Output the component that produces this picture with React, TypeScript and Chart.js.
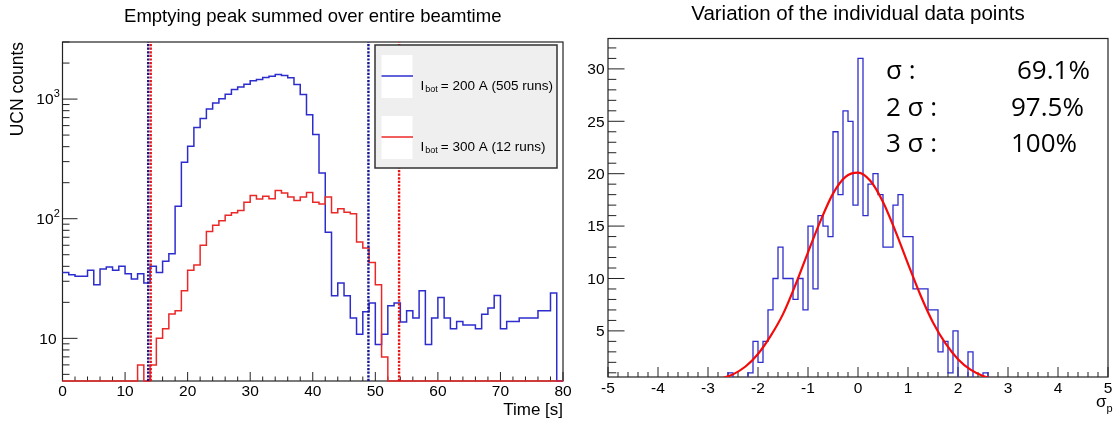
import React, { useEffect, useRef } from "react";
import { Chart, registerables } from "chart.js";

Chart.register(...registerables);

const W = 1117;
const H = 423;
const SANS = '"Liberation Sans", Arial, Helvetica, sans-serif';
const SLIDE = '"Open Sans", "Noto Sans", sans-serif';
const AXIS = "#222";
const BLUE = "rgb(45,45,205)";
const RED = "rgb(235,40,40)";
const BLUE_DOT = "rgb(20,20,150)";
const RED_DOT = "rgb(230,20,20)";
const TICK_FONT = `15.5px ${SANS}`;

// ---------- Left panel: emptying peak (1 s bins, 0..80 s) ----------
const timeBinStart = 0;
const timeBinWidth = 1;
const blueCounts = [
  35.5, 34, 33, 33, 37, 28, 38, 39.5, 37, 40,
  34.7, 31.3, 34.7, 29, 40, 35.5, 44, 51, 127, 296,
  403, 578, 687, 828, 929, 1004, 1097, 1200, 1264, 1330,
  1420, 1455, 1513, 1552, 1603, 1573, 1507, 1322, 1091, 741,
  505, 241, 77, 22.7, 29, 22.7, 14.8, 10.8, 16.7, 19.7,
  8.9, 10.8, 18.7, 19.7, 13.7, 17, 14.8, 25, 8.9, 14.8,
  21.9, 14.8, 12, 13.8, 12.9, 12.9, 12, 15.9, 17.9, 22.8,
  12, 13.8, 13.8, 14.8, 14.8, 14.8, 17, 17, 23.9, 0,
];
const redCounts = [
  0, 0, 0, 0, 0, 0, 0, 0, 0, 0,
  0, 0, 6, 0, 6, 10, 12, 16, 17, 25,
  37, 41, 60, 78, 88, 96, 107, 112, 117, 137,
  156, 146, 154, 147, 172, 164, 152, 142, 152, 166,
  137, 133, 152, 112, 121, 113, 110, 64, 57, 43,
  28, 7, 0, 0, 0, 0, 0, 0, 0, 0,
  0, 0, 0, 0, 0, 0, 0, 0, 0, 0,
  0, 0, 0, 0, 0, 0, 0, 0, 0, 0,
];
const blueCutTimes = [13.7, 48.9];
const redCutTimes = [14.1, 53.8];
const timeTicks = [0, 10, 20, 30, 40, 50, 60, 70, 80];
const timeTickLabels = ["0", "10", "20", "30", "40", "50", "60", "70", "80"];
const countTicks = [10, 100, 1000];
const countTickExponents = ["", "2", "3"];
const legendLabels = ["= 200 A (505 runs)", "= 300 A (12 runs)"];

const L_X_MIN = 0;
const L_X_MAX = 80;
const L_Y_MIN = 4.4;
const L_Y_MAX = 3000;

// ---------- Right panel: variation of data points (0.1 bins) ----------
const sigmaBinStart = -2.6;
const sigmaBinWidth = 0.1;
const sigmaCounts = [
  1, 0, 0, 0, 1, 4, 2, 4, 7, 10,
  13, 10, 10, 8, 10, 7, 15, 9, 16, 15,
  14, 24, 18, 26, 25, 17, 31, 16, 19, 20,
  18, 13, 13, 17, 18, 14, 14, 9, 9, 9,
  7, 7, 3, 4, 1, 5, 0, 0, 3, 0,
  0, 1,
];
const fitX = [-2.74, -2.5, -2.25, -2.0, -1.75, -1.5, -1.25, -1.0, -0.75, -0.5, -0.25, 0.0, 0.25, 0.5, 0.75, 1.0, 1.25, 1.5, 1.75, 2.0, 2.25, 2.5, 2.67];
const fitY = [0.45, 0.85, 1.6, 2.8, 4.5, 6.6, 9.4, 12.5, 15.5, 18.1, 19.7, 20.1, 19.3, 17.3, 14.5, 11.4, 8.4, 5.8, 3.8, 2.3, 1.3, 0.7, 0.45];
const sigmaTicks = [-5, -4, -3, -2, -1, 0, 1, 2, 3, 4, 5];
const sigmaTickLabels = ["-5", "-4", "-3", "-2", "-1", "0", "1", "2", "3", "4", "5"];
const entryTicks = [5, 10, 15, 20, 25, 30];
const entryTickLabels = ["5", "10", "15", "20", "25", "30"];
const coverageLabels = ["σ :", "2 σ :", "3 σ :"];
const coverageValues = ["69.1%", "97.5%", "100%"];

const R_X_MIN = -5;
const R_X_MAX = 5;
const R_Y_MIN = 0.6;
const R_Y_MAX = 32.9;

// ---------- helpers ----------
function histPoints(start: number, width: number, counts: number[], floor?: number) {
  const pts: { x: number; y: number }[] = [];
  counts.forEach((c, i) => {
    const y = floor !== undefined ? Math.max(c, floor) : c;
    pts.push({ x: start + i * width, y }, { x: start + (i + 1) * width, y });
  });
  return pts;
}

function seg(ctx: CanvasRenderingContext2D, x1: number, y1: number, x2: number, y2: number) {
  ctx.beginPath();
  ctx.moveTo(x1, y1);
  ctx.lineTo(x2, y2);
  ctx.stroke();
}

function txt(
  ctx: CanvasRenderingContext2D,
  s: string,
  x: number,
  y: number,
  font: string,
  align: CanvasTextAlign = "center",
  baseline: CanvasTextBaseline = "middle",
  color = "#000"
) {
  ctx.font = font;
  ctx.textAlign = align;
  ctx.textBaseline = baseline;
  ctx.fillStyle = color;
  ctx.fillText(s, x, y);
}

const leftPlugin = {
  id: "leftDecor",
  beforeDatasetsDraw(chart: any) {
    const { ctx, chartArea: a, scales } = chart;
    const x = scales.x;
    const y = scales.y;
    ctx.save();
    ctx.strokeStyle = AXIS;
    ctx.lineWidth = 1.2;
    ctx.strokeRect(a.left, a.top, a.right - a.left, a.bottom - a.top);
    ctx.lineWidth = 1;
    for (let t = L_X_MIN; t <= L_X_MAX; t += 2) {
      const px = x.getPixelForValue(t);
      const len = t % 10 === 0 ? 9 : 4.5;
      seg(ctx, px, a.bottom, px, a.bottom - len);
    }
    for (let e = 0; e <= 4; e++) {
      for (let m = 1; m <= 9; m++) {
        const v = m * Math.pow(10, e);
        if (v < L_Y_MIN || v > L_Y_MAX) continue;
        const py = y.getPixelForValue(v);
        const len = m === 1 ? 15 : 7;
        seg(ctx, a.left, py, a.left + len, py);
      }
    }
    ctx.restore();
  },
  afterDatasetsDraw(chart: any) {
    const { ctx } = chart;
    ctx.save();
    const bx = 375, by = 45, bw = 182, bh = 123;
    ctx.fillStyle = "#efefef";
    ctx.fillRect(bx, by, bw, bh);
    ctx.strokeStyle = "#333";
    ctx.lineWidth = 1.5;
    ctx.strokeRect(bx, by, bw, bh);
    const rows = [
      { top: 55, color: BLUE, label: legendLabels[0] },
      { top: 116, color: RED, label: legendLabels[1] },
    ];
    rows.forEach((r) => {
      ctx.fillStyle = "#fff";
      ctx.fillRect(381.5, r.top, 31, 43);
      ctx.strokeStyle = r.color;
      ctx.lineWidth = 1.5;
      seg(ctx, 381.5, r.top + 21, 413, r.top + 21);
      const ty = r.top + 31;
      let cx = 420.5;
      txt(ctx, "I", cx, ty, `13.5px ${SANS}`, "left");
      cx += ctx.measureText("I").width + 1;
      txt(ctx, "bot", cx, ty + 4, `9px ${SANS}`, "left");
      cx += ctx.measureText("bot").width + 3;
      txt(ctx, r.label, cx, ty, `13.5px ${SANS}`, "left");
    });
    ctx.restore();
  },
  afterDraw(chart: any) {
    const { ctx, chartArea: a, scales } = chart;
    const x = scales.x;
    const y = scales.y;
    ctx.save();
    timeTicks.forEach((t, i) => {
      txt(ctx, timeTickLabels[i], x.getPixelForValue(t), 392, TICK_FONT);
    });
    countTicks.forEach((v, i) => {
      const py = y.getPixelForValue(v);
      const sup = countTickExponents[i];
      if (sup) {
        txt(ctx, "10", 53.5, py + 1, TICK_FONT, "right");
        txt(ctx, sup, 53.8, py - 5, `11px ${SANS}`, "left");
      } else {
        txt(ctx, "10", 56.5, py + 1, TICK_FONT, "right");
      }
    });
    txt(ctx, "Time [s]", a.right, 410, `17px ${SANS}`, "right");
    ctx.translate(18, a.top);
    ctx.rotate(-Math.PI / 2);
    txt(ctx, "UCN counts", 0, 0, `17.5px ${SANS}`, "right");
    ctx.setTransform(1, 0, 0, 1, 0, 0);
    txt(ctx, "Emptying peak summed over entire beamtime", (a.left + a.right) / 2, 17, `18.5px ${SANS}`);
    ctx.restore();
  },
};

const rightPlugin = {
  id: "rightDecor",
  beforeDatasetsDraw(chart: any) {
    const { ctx, chartArea: a, scales } = chart;
    const x = scales.x;
    const y = scales.y;
    ctx.save();
    ctx.strokeStyle = AXIS;
    ctx.lineWidth = 1.2;
    ctx.strokeRect(a.left, a.top, a.right - a.left, a.bottom - a.top);
    ctx.lineWidth = 1;
    for (let k = 0; k <= 50; k++) {
      const t = R_X_MIN + k * 0.2;
      const px = x.getPixelForValue(t);
      const len = k % 5 === 0 ? 10 : 5;
      seg(ctx, px, a.bottom, px, a.bottom - len);
    }
    for (let v = 1; v <= 32; v++) {
      const py = y.getPixelForValue(v);
      const len = v % 5 === 0 ? 16.5 : 8.3;
      seg(ctx, a.left, py, a.left + len, py);
    }
    ctx.restore();
  },
  afterDraw(chart: any) {
    const { ctx, chartArea: a, scales } = chart;
    const x = scales.x;
    const y = scales.y;
    ctx.save();
    sigmaTicks.forEach((t, i) => {
      txt(ctx, sigmaTickLabels[i], x.getPixelForValue(t), 389, TICK_FONT);
    });
    entryTicks.forEach((v, i) => {
      txt(ctx, entryTickLabels[i], 604.5, y.getPixelForValue(v) + 1, TICK_FONT, "right");
    });
    txt(ctx, "σ", 1096, 402, `17px ${SANS}`, "left");
    txt(ctx, "p", 1106.5, 409, `11px ${SANS}`, "left");
    txt(ctx, "Variation of the individual data points", (a.left + a.right) / 2, 14, `20.5px ${SANS}`);
    const rowsY = [72, 108.5, 145];
    const valX = [1017, 1011, 1011];
    coverageLabels.forEach((s, i) => {
      txt(ctx, s, 886, rowsY[i], `26px ${SLIDE}`, "left");
      txt(ctx, coverageValues[i], valX[i], rowsY[i], `26px ${SLIDE}`, "left");
    });
    ctx.restore();
  },
};

function leftConfig(): any {
  const cut = (t: number) => [
    { x: t, y: L_Y_MIN },
    { x: t, y: L_Y_MAX },
  ];
  const dotted = (t: number, color: string) => ({
    data: cut(t),
    borderColor: color,
    borderWidth: 2.4,
    borderDash: [2.2, 1.4],
    pointRadius: 0,
    fill: false,
  });
  return {
    type: "line",
    data: {
      datasets: [
        dotted(redCutTimes[0], RED_DOT),
        dotted(redCutTimes[1], RED_DOT),
        dotted(blueCutTimes[0], BLUE_DOT),
        dotted(blueCutTimes[1], BLUE_DOT),
        {
          data: histPoints(timeBinStart, timeBinWidth, redCounts, L_Y_MIN),
          borderColor: RED,
          borderWidth: 1.5,
          pointRadius: 0,
          fill: false,
          clip: 2,
        },
        {
          data: histPoints(timeBinStart, timeBinWidth, blueCounts, L_Y_MIN),
          borderColor: BLUE,
          borderWidth: 1.5,
          pointRadius: 0,
          fill: false,
          clip: 2,
        },
      ],
    },
    options: {
      animation: false,
      responsive: false,
      events: [],
      layout: { padding: { left: 62.5, top: 42, right: W - 563, bottom: H - 381 } },
      plugins: { legend: { display: false }, tooltip: { enabled: false }, title: { display: false } },
      scales: {
        x: { type: "linear", min: L_X_MIN, max: L_X_MAX, display: false },
        y: { type: "logarithmic", min: L_Y_MIN, max: L_Y_MAX, display: false },
      },
    },
    plugins: [leftPlugin],
  };
}

function rightConfig(): any {
  const n = sigmaCounts.length;
  const hist = [
    { x: sigmaBinStart, y: 0 },
    ...histPoints(sigmaBinStart, sigmaBinWidth, sigmaCounts),
    { x: sigmaBinStart + n * sigmaBinWidth, y: 0 },
  ];
  return {
    type: "line",
    data: {
      datasets: [
        {
          data: fitX.map((v, i) => ({ x: v, y: fitY[i] })),
          borderColor: "rgb(245,10,10)",
          borderWidth: 2.2,
          pointRadius: 0,
          fill: false,
          cubicInterpolationMode: "monotone",
        },
        {
          data: hist,
          borderColor: BLUE,
          borderWidth: 1.3,
          pointRadius: 0,
          fill: false,
        },
      ],
    },
    options: {
      animation: false,
      responsive: false,
      events: [],
      layout: { padding: { left: 608, top: 38.5, right: W - 1108, bottom: H - 377 } },
      plugins: { legend: { display: false }, tooltip: { enabled: false }, title: { display: false } },
      scales: {
        x: { type: "linear", min: R_X_MIN, max: R_X_MAX, display: false },
        y: { type: "linear", min: R_Y_MIN, max: R_Y_MAX, display: false },
      },
    },
    plugins: [rightPlugin],
  };
}

export default function App() {
  const leftRef = useRef<HTMLCanvasElement>(null);
  const rightRef = useRef<HTMLCanvasElement>(null);
  useEffect(() => {
    const c1 = new Chart(leftRef.current as HTMLCanvasElement, leftConfig());
    const c2 = new Chart(rightRef.current as HTMLCanvasElement, rightConfig());
    return () => {
      c1.destroy();
      c2.destroy();
    };
  }, []);
  const cs: React.CSSProperties = { position: "absolute", left: 0, top: 0, width: W, height: H };
  return (
    <div style={{ position: "fixed", left: 0, top: 0, width: W, height: H, background: "#fff" }}>
      <canvas ref={leftRef} width={W} height={H} style={cs} />
      <canvas ref={rightRef} width={W} height={H} style={cs} />
    </div>
  );
}
